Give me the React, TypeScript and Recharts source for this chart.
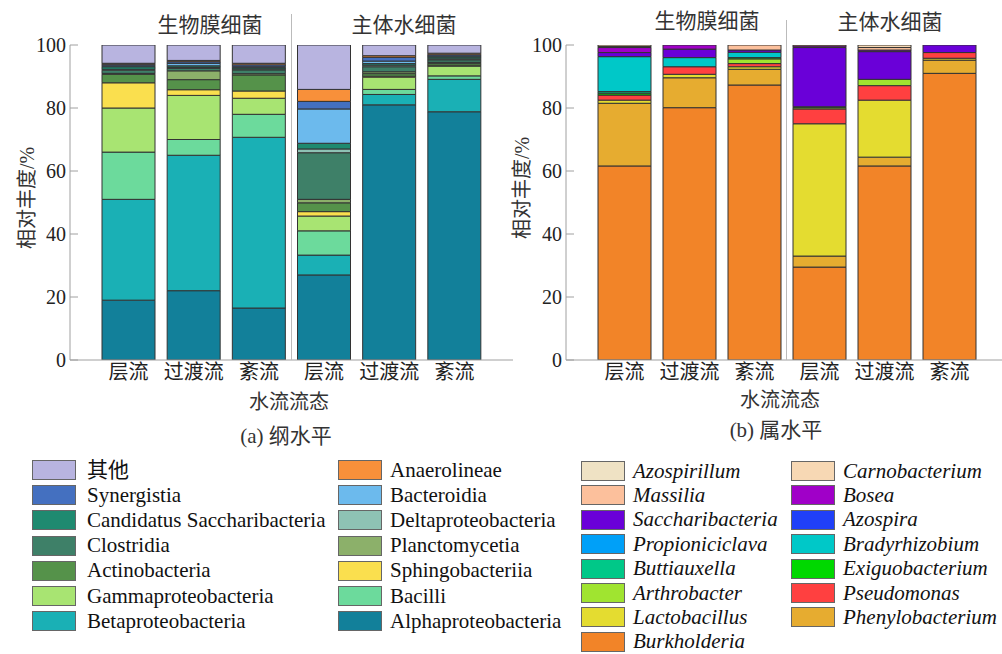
import React from "react";
import { BarChart, Bar, XAxis, YAxis } from "recharts";

// six samples: biofilm bacteria then bulk-water bacteria
const samples = ["生物膜-层流", "生物膜-过渡流", "生物膜-紊流", "主体水-层流", "主体水-过渡流", "主体水-紊流"];
const yTicks = [0, 20, 40, 60, 80, 100];

// (a) class level, % per sample
const alphaproteobacteria = [19, 22, 16.5, 27, 81, 78.8];
const betaproteobacteria = [32, 43, 54.2, 6.3, 3.3, 10.3];
const bacilli = [15, 5, 7.3, 7.7, 1.6, 1.1];
const gammaproteobacteria = [14, 14, 5.1, 4.7, 3.9, 3.1];
const sphingobacteriia = [8, 1.8, 2.3, 1.4, 0.3, 0.3];
const actinobacteria = [2.7, 3.2, 5.1, 2.8, 0.8, 0.6];
const planctomycetia = [0.3, 2.8, 0.4, 1.1, 0.6, 0.3];
const clostridia = [1.0, 0.8, 1.2, 14.8, 1.6, 0.8];
const deltaproteobacteria = [0.3, 0.3, 0.3, 1.2, 0.5, 0.3];
const candidatusSaccharibacteria = [0.8, 0.5, 0.4, 1.8, 0.5, 0.6];
const bacteroidia = [0.3, 0.8, 0.3, 10.9, 0.8, 0.3];
const synergistia = [0.5, 0.5, 0.6, 2.4, 1.2, 0.4];
const anaerolineae = [0.3, 0.4, 0.5, 3.8, 0.5, 0.5];
const otherClass = [5.8, 4.9, 5.8, 14.1, 3.4, 2.6];

// (b) genus level, % per sample
const burkholderia = [61.6, 80.1, 87.3, 29.5, 61.6, 91.0];
const phenylobacterium = [19.9, 9.5, 5.0, 3.5, 2.8, 4.2];
const lactobacillus = [1.0, 1.1, 0.8, 42, 18.1, 0.6];
const pseudomonas = [1.6, 2.4, 1.0, 4.7, 4.6, 1.8];
const arthrobacter = [0, 0, 1.5, 0.4, 2.0, 0];
const exiguobacterium = [0.6, 0, 0.4, 0.3, 0, 0];
const buttiauxella = [0.5, 0, 0, 0, 0, 0];
const bradyrhizobium = [11.1, 2.9, 1.7, 0, 0, 0];
const propioniciclava = [0, 0, 0, 0, 0, 0];
const azospira = [0, 0, 0, 0, 0, 0];
const saccharibacteria = [1.3, 2.7, 0.7, 18.8, 8.8, 2.4];
const bosea = [1.6, 1.3, 0, 0.5, 0.5, 0];
const massilia = [0.3, 0, 1.6, 0.3, 0.8, 0];
const carnobacterium = [0.5, 0, 0, 0, 0.8, 0];
const azospirillum = [0, 0, 0, 0, 0, 0];

// stacking order, bottom to top
const classSeries: [string, number[]][] = [
  ["Alphaproteobacteria", alphaproteobacteria],
  ["Betaproteobacteria", betaproteobacteria],
  ["Bacilli", bacilli],
  ["Gammaproteobacteria", gammaproteobacteria],
  ["Sphingobacteriia", sphingobacteriia],
  ["Actinobacteria", actinobacteria],
  ["Planctomycetia", planctomycetia],
  ["Clostridia", clostridia],
  ["Deltaproteobacteria", deltaproteobacteria],
  ["Candidatus Saccharibacteria", candidatusSaccharibacteria],
  ["Bacteroidia", bacteroidia],
  ["Synergistia", synergistia],
  ["Anaerolineae", anaerolineae],
  ["其他", otherClass],
];

const genusSeries: [string, number[]][] = [
  ["Burkholderia", burkholderia],
  ["Phenylobacterium", phenylobacterium],
  ["Lactobacillus", lactobacillus],
  ["Pseudomonas", pseudomonas],
  ["Arthrobacter", arthrobacter],
  ["Exiguobacterium", exiguobacterium],
  ["Buttiauxella", buttiauxella],
  ["Bradyrhizobium", bradyrhizobium],
  ["Propioniciclava", propioniciclava],
  ["Azospira", azospira],
  ["Saccharibacteria", saccharibacteria],
  ["Bosea", bosea],
  ["Massilia", massilia],
  ["Carnobacterium", carnobacterium],
  ["Azospirillum", azospirillum],
];

const colors: Record<string, string> = {
  其他: "#b8b4e0",
  Synergistia: "#4470c0",
  "Candidatus Saccharibacteria": "#1f8a70",
  Clostridia: "#3e8068",
  Actinobacteria: "#55924a",
  Gammaproteobacteria: "#a8e472",
  Betaproteobacteria: "#1ab0b5",
  Anaerolineae: "#f8903a",
  Bacteroidia: "#6cbaed",
  Deltaproteobacteria: "#8ec2b4",
  Planctomycetia: "#8cb06a",
  Sphingobacteriia: "#fadf4e",
  Bacilli: "#6cda9c",
  Alphaproteobacteria: "#12809a",
  Azospirillum: "#efe2c4",
  Massilia: "#fcc09c",
  Saccharibacteria: "#6a00d8",
  Propioniciclava: "#00a0f8",
  Buttiauxella: "#00c888",
  Arthrobacter: "#a0e430",
  Lactobacillus: "#e4dc30",
  Burkholderia: "#f28428",
  Carnobacterium: "#f7d8b4",
  Bosea: "#a000c8",
  Azospira: "#2040f8",
  Bradyrhizobium: "#00c8c8",
  Exiguobacterium: "#00d800",
  Pseudomonas: "#ff4040",
  Phenylobacterium: "#e6ac30",
};

// legend columns, top to bottom
const classLegend = [
  ["其他", "Synergistia", "Candidatus Saccharibacteria", "Clostridia", "Actinobacteria", "Gammaproteobacteria", "Betaproteobacteria"],
  ["Anaerolineae", "Bacteroidia", "Deltaproteobacteria", "Planctomycetia", "Sphingobacteriia", "Bacilli", "Alphaproteobacteria"],
];
const genusLegend = [
  ["Azospirillum", "Massilia", "Saccharibacteria", "Propioniciclava", "Buttiauxella", "Arthrobacter", "Lactobacillus", "Burkholderia"],
  ["Carnobacterium", "Bosea", "Azospira", "Bradyrhizobium", "Exiguobacterium", "Pseudomonas", "Phenylobacterium"],
];

const FONT = '"Liberation Serif", "Noto Sans CJK SC", serif';
const AXIS = "#a0a0a0";

function buildRows(series: [string, number[]][]) {
  return samples.map((s, i) => {
    const row: Record<string, any> = { sample: s };
    series.forEach(([name, vals]) => (row[name] = vals[i]));
    return row;
  });
}

const YTick = (props: any) => {
  const { x, y, payload } = props;
  return (
    <g>
      <line x1={x + 4} x2={x + 12} y1={y} y2={y} stroke={AXIS} />
      <text x={x} y={y} dy="0.35em" textAnchor="end" fontSize={20} fill="#222">
        {payload.value}
      </text>
    </g>
  );
};

function StackChart({
  series,
  left,
  width,
  rightMargin,
  padRight,
}: {
  series: [string, number[]][];
  left: number;
  width: number;
  rightMargin: number;
  padRight: number;
}) {
  const rows = buildRows(series);
  return (
    <div style={{ position: "absolute", left, top: 0 }}>
      <BarChart width={width} height={400} data={rows} margin={{ top: 45, right: rightMargin, left: 10, bottom: 0 }}>
        <XAxis
          dataKey="sample"
          height={40}
          interval={0}
          tickLine={false}
          tickSize={0}
          tickMargin={5}
          axisLine={{ stroke: AXIS }}
          padding={{ left: 26, right: padRight }}
          tick={{ fontSize: 20, fill: "#222" }}
          tickFormatter={(v: string) => v.split("-")[1]}
        />
        <YAxis
          width={60}
          domain={[0, 100]}
          ticks={yTicks}
          allowDataOverflow
          tickLine={false}
          tickSize={0}
          tickMargin={4}
          axisLine={{ stroke: AXIS }}
          tick={<YTick />}
        />
        {series.map(([name]) => (
          <Bar
            key={name}
            dataKey={name}
            stackId="a"
            barSize={53}
            fill={colors[name]}
            stroke="#333"
            strokeWidth={1}
            isAnimationActive={false}
          />
        ))}
      </BarChart>
    </div>
  );
}

const Label = ({ x, y, text, size = 20, rotate = false }: { x: number; y: number; text: string; size?: number; rotate?: boolean }) => (
  <div
    style={{
      position: "absolute",
      left: x,
      top: y,
      transform: `translate(-50%, -50%)${rotate ? " rotate(-90deg)" : ""}`,
      fontSize: size,
      color: "#333",
      whiteSpace: "nowrap",
      lineHeight: 1,
    }}
  >
    {text}
  </div>
);

const VLine = ({ x, top }: { x: number; top: number }) => (
  <div style={{ position: "absolute", left: x, top, width: 1, height: 360 - top, background: "#bbb" }} />
);

function Legend({
  cols,
  xs,
  top,
  step,
  italic,
}: {
  cols: string[][];
  xs: number[];
  top: number;
  step: number;
  italic?: boolean;
}) {
  return (
    <>
      {cols.map((col, ci) =>
        col.map((name, ri) => (
          <div
            key={name}
            style={{
              position: "absolute",
              left: xs[ci],
              top: top + ri * step - 10,
              height: 20,
              display: "flex",
              alignItems: "center",
              whiteSpace: "nowrap",
            }}
          >
            <div
              style={{
                width: 44,
                height: 20,
                boxSizing: "border-box",
                border: "1px solid #666",
                background: colors[name],
              }}
            />
            <span
              style={{
                marginLeft: ci === 0 && !italic ? 11 : 8,
                fontSize: 21,
                lineHeight: 1,
                fontStyle: italic ? "italic" : "normal",
                color: "#111",
              }}
            >
              {name}
            </span>
          </div>
        ))
      )}
    </>
  );
}

export default function App() {
  return (
    <div
      style={{
        position: "absolute",
        left: 0,
        top: 0,
        width: 1002,
        height: 654,
        background: "#fff",
        fontFamily: FONT,
        overflow: "hidden",
      }}
    >
      <StackChart series={classSeries} left={0} width={520} rightMargin={7} padRight={26} />
      <StackChart series={genusSeries} left={496} width={506} rightMargin={0} padRight={20} />

      <VLine x={291} top={14} />
      <VLine x={786} top={20} />

      <Label x={210} y={25} text="生物膜细菌" size={21} />
      <Label x={404} y={25} text="主体水细菌" size={21} />
      <Label x={707} y={21} text="生物膜细菌" size={21} />
      <Label x={890} y={22} text="主体水细菌" size={21} />

      <Label x={27} y={198} text="相对丰度/%" rotate />
      <Label x={522} y={188} text="相对丰度/%" rotate />

      <Label x={289} y={402} text="水流流态" />
      <Label x={780} y={400} text="水流流态" />
      <Label x={286} y={436} text="(a)  纲水平" size={21} />
      <Label x={776} y={430} text="(b)  属水平" size={21} />

      <Legend cols={classLegend} xs={[32, 338]} top={470} step={25.2} />
      <Legend cols={genusLegend} xs={[581, 791]} top={471} step={24.4} italic />
    </div>
  );
}
